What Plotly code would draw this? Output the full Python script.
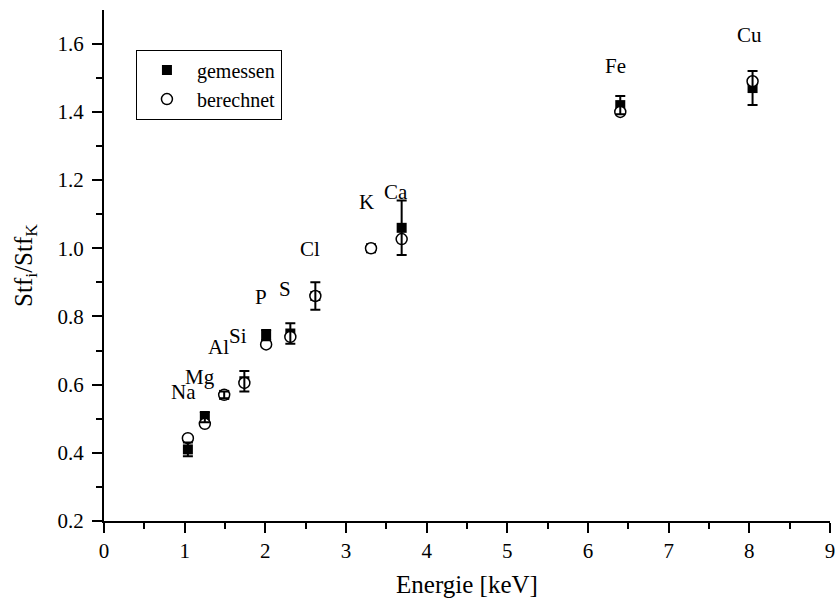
import plotly.graph_objects as go

elements = ["Na", "Mg", "Al", "Si", "P", "S", "Cl", "K", "Ca", "Fe", "Cu"]
energy = [1.04, 1.25, 1.49, 1.74, 2.01, 2.31, 2.62, 3.31, 3.69, 6.40, 8.04]
gemessen = [0.41, 0.505, 0.57, 0.61, 0.745, 0.75, 0.86, 1.0, 1.06, 1.42, 1.47]
gemessen_err = [0.02, 0.015, 0.01, 0.03, 0.015, 0.03, 0.04, None, 0.08, 0.027, 0.05]
berechnet = [0.443, 0.485, 0.57, 0.605, 0.718, 0.74, 0.86, 1.0, 1.027, 1.40, 1.49]

# label placement (data coordinates) for element names
label_x = [0.98, 1.185, 1.414, 1.663, 1.948, 2.246, 2.556, 3.26, 3.62, 6.34, 8.0]
label_y = [0.579, 0.622, 0.709, 0.743, 0.857, 0.880, 0.998, 1.135, 1.165, 1.535, 1.625]

FONT = "Liberation Serif"

fig = go.Figure()
fig.add_trace(go.Scatter(
    x=energy, y=gemessen, mode="markers", name="gemessen",
    marker=dict(symbol="square", size=10, color="black"),
))
fig.add_trace(go.Scatter(
    x=energy, y=berechnet, mode="markers", name="berechnet",
    marker=dict(symbol="circle", size=11, color="white",
                line=dict(color="black", width=1.5)),
))
# error bars of the measured values (only where an error exists), drawn on top
idx = [i for i, e in enumerate(gemessen_err) if e is not None]
fig.add_trace(go.Scatter(
    x=[energy[i] for i in idx], y=[gemessen[i] for i in idx],
    mode="markers", showlegend=False, hoverinfo="skip",
    marker=dict(size=1, color="rgba(0,0,0,0)"),
    error_y=dict(type="data", array=[gemessen_err[i] for i in idx], visible=True,
                 color="black", thickness=2, width=5),
))

for t, lx, ly in zip(elements, label_x, label_y):
    fig.add_annotation(x=lx, y=ly, text=t, showarrow=False,
                       xanchor="center", yanchor="middle",
                       font=dict(family=FONT, size=21, color="black"))

axis_common = dict(
    showline=True, linecolor="black", linewidth=2,
    ticks="outside", ticklen=10, tickwidth=2, tickcolor="black",
    showgrid=False, zeroline=False, mirror=False,
    ticklabeloverflow="allow",
    tickfont=dict(family=FONT, size=21, color="black"),
)

fig.update_xaxes(
    range=[0, 9], dtick=1, tick0=0,
    minor=dict(dtick=0.5, ticks="outside", ticklen=6, tickwidth=2,
               tickcolor="black", showgrid=False),
    title=dict(text="Energie [keV]", font=dict(family=FONT, size=25, color="black"),
               standoff=13),
    **axis_common,
)
fig.update_yaxes(
    range=[0.2, 1.699], dtick=0.2, tick0=0.2, tickformat=".1f",
    minor=dict(dtick=0.1, ticks="outside", ticklen=6, tickwidth=2,
               tickcolor="black", showgrid=False),
    ticklabelstandoff=4,
    title=dict(text="Stf<sub>i</sub>/Stf<sub>K</sub>",
               font=dict(family=FONT, size=25, color="black"), standoff=18),
    **axis_common,
)

fig.update_layout(
    width=835, height=599,
    margin=dict(l=104, r=5, t=10, b=78, autoexpand=False),
    plot_bgcolor="white", paper_bgcolor="white",
    font=dict(family=FONT, color="black"),
    showlegend=True,
    legend=dict(
        x=0.044, y=0.9226, xanchor="left", yanchor="top",
        bgcolor="white", bordercolor="black", borderwidth=1,
        font=dict(family=FONT, size=20, color="black"),
        itemwidth=50,
    ),
)

# remove the default page margin so the figure fills the window exactly
fig.write_html(
    "out.html",
    config={"displayModeBar": False},
    post_script="document.body.style.margin='0';"
                "document.documentElement.style.overflow='hidden';",
)
